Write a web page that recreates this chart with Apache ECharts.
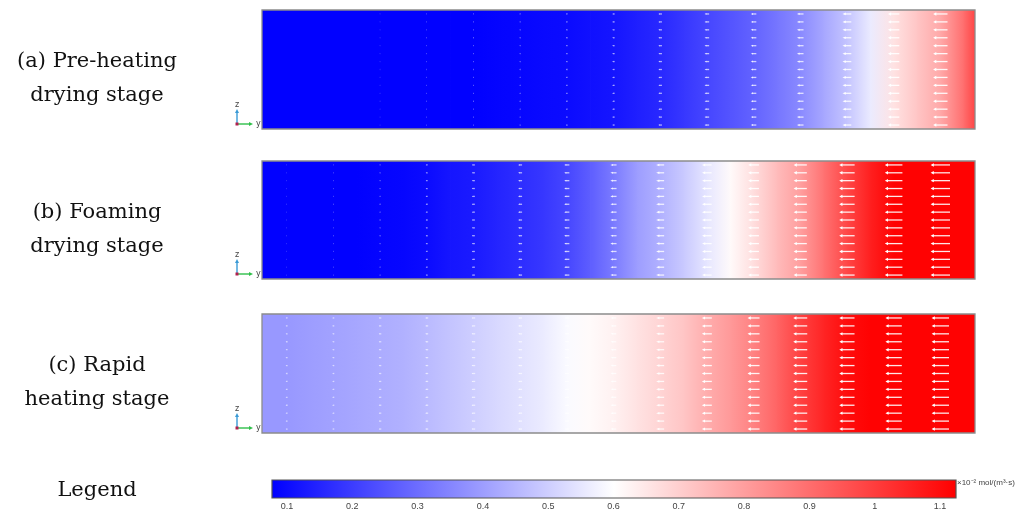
<!DOCTYPE html>
<html>
<head>
<meta charset="utf-8">
<script src="https://cdn.jsdelivr.net/npm/echarts@6/dist/echarts.min.js"></script>
<style>
  html, body { margin: 0; padding: 0; background: #ffffff; }
  #chart { width: 1020px; height: 512px; }
</style>
</head>
<body>
<div id="chart"></div>
<script>
// Molar flux along the y direction of the sample for three drying stages,
// in units of 1e-2 mol/(m^3 s). Samples run along y (left -> right).

// domain length along y (in units of the arrow column spacing) and height along z
const domainY = 15.27;
const domainZ = 15;

// sample positions along y: the two edges, every arrow column and the midpoints between
const samplePos = [0]
  .concat(Array.from({ length: 30 }, (_, j) => 0.527 + 0.5 * j))
  .concat([domainY]);

// flux values at samplePos for each stage
const fluxPreheat = [0.08, 0.08, 0.08, 0.08, 0.08, 0.08, 0.08, 0.08, 0.08, 0.08, 0.085, 0.09, 0.095, 0.10, 0.11, 0.12,
                     0.14, 0.16, 0.19, 0.22, 0.25, 0.28, 0.32, 0.36, 0.42, 0.48, 0.56, 0.66, 0.72, 0.78, 0.90, 0.98];
const fluxFoaming = [0.08, 0.08, 0.08, 0.08, 0.08, 0.085, 0.09, 0.10, 0.12, 0.13, 0.15, 0.17, 0.19, 0.22, 0.27, 0.33,
                     0.40, 0.44, 0.49, 0.55, 0.61, 0.67, 0.74, 0.80, 0.89, 0.98, 1.06, 1.12, 1.12, 1.12, 1.12, 1.12];
const fluxRapid   = [0.39, 0.39, 0.40, 0.41, 0.42, 0.43, 0.44, 0.46, 0.48, 0.50, 0.52, 0.54, 0.56, 0.59, 0.61, 0.63,
                     0.66, 0.69, 0.72, 0.77, 0.81, 0.86, 0.92, 0.99, 1.05, 1.10, 1.12, 1.12, 1.12, 1.12, 1.12, 1.12];

// relative arrow magnitude at each of the 15 arrow columns (1 = longest arrow)
const arrowPreheat = [0.00, 0.00, 0.02, 0.03, 0.04, 0.05, 0.08, 0.12, 0.18, 0.23, 0.28, 0.33, 0.44, 0.57, 0.72];
const arrowFoaming = [0.02, 0.03, 0.05, 0.10, 0.15, 0.20, 0.26, 0.31, 0.40, 0.48, 0.54, 0.66, 0.77, 0.88, 0.97];
const arrowRapid   = [0.10, 0.10, 0.13, 0.15, 0.18, 0.20, 0.23, 0.28, 0.40, 0.50, 0.60, 0.70, 0.76, 0.82, 0.87];

const stageLabels = [
  ['(a) Pre-heating', 'drying stage'],
  ['(b) Foaming', 'drying stage'],
  ['(c) Rapid', 'heating stage']
];
const legendTitle = 'Legend';

// colour scale
const scaleMin = 0.077;
const scaleMax = 1.1245;
const scaleColors = ['#0000ff', '#ffffff', '#ff0000'];
const scaleTicks = [0.1, 0.2, 0.3, 0.4, 0.5, 0.6, 0.7, 0.8, 0.9, 1, 1.1];
const scaleUnit = '×10⁻² mol/(m³·s)';

const stageFlux = [fluxPreheat, fluxFoaming, fluxRapid];
const stageArrows = [arrowPreheat, arrowFoaming, arrowRapid];

// layout of the three panels and the colour bar
const panelLeft = 262, panelWidth = 713;
const panelTops = [10, 161, 314];
const panelHeights = [119, 118, 119];
const barBox = { left: 272, top: 480, width: 684, height: 18 };
const arrowFullLength = 20; // px for a relative magnitude of 1
const serif = "'DejaVu Serif', 'Liberation Serif', serif";

function fluxColor(v) {
  const t = Math.min(1, Math.max(0, (v - scaleMin) / (scaleMax - scaleMin)));
  return echarts.color.lerp(t, scaleColors);
}

const chart = echarts.init(document.getElementById('chart'), null, { renderer: 'canvas' });

const grids = [], xAxes = [], yAxes = [], series = [], graphics = [];

stageFlux.forEach((flux, i) => {
  grids.push({ left: panelLeft, top: panelTops[i], width: panelWidth, height: panelHeights[i] });
  xAxes.push({ type: 'value', gridIndex: i, min: 0, max: domainY, show: false });
  yAxes.push({ type: 'value', gridIndex: i, min: 0, max: domainZ, show: false });

  // field: one gradient strip per pair of neighbouring samples
  const segments = [];
  for (let k = 0; k < samplePos.length - 1; k++) {
    segments.push([samplePos[k], samplePos[k + 1], flux[k], flux[k + 1]]);
  }
  series.push({
    type: 'custom', xAxisIndex: i, yAxisIndex: i, silent: true, z: 1,
    data: segments,
    renderItem(params, api) {
      const a = api.coord([api.value(0), domainZ]);
      const b = api.coord([api.value(1), 0]);
      const last = params.dataIndex === segments.length - 1;
      return {
        type: 'rect',
        shape: { x: a[0], y: a[1], width: b[0] - a[0] + (last ? 0 : 0.8), height: b[1] - a[1] },
        style: {
          fill: new echarts.graphic.LinearGradient(0, 0, 1, 0, [
            { offset: 0, color: fluxColor(api.value(2)) },
            { offset: 1, color: fluxColor(api.value(3)) }
          ])
        }
      };
    }
  });

  // flux arrows: 15 columns along y, 15 rows along z, pointing towards -y
  const arrows = [];
  stageArrows[i].forEach((m, c) => {
    const pos = samplePos[1 + 2 * c];
    for (let r = 0; r < 15; r++) arrows.push([pos, r + 0.5, m]);
  });
  series.push({
    type: 'custom', xAxisIndex: i, yAxisIndex: i, silent: true, z: 3,
    data: arrows,
    renderItem(params, api) {
      const p = api.coord([api.value(0), api.value(1)]);
      const len = api.value(2) * arrowFullLength;
      if (len < 0.3) return null;
      const x0 = p[0] - len / 2, x1 = p[0] + len / 2, y = p[1];
      const head = Math.min(3.2, len * 0.4);
      const half = Math.min(1.7, 0.3 + len * 0.12);
      const alpha = 0.45 + 0.45 * Math.min(1, len / 10);
      return {
        type: 'group',
        children: [
          { type: 'line', shape: { x1: x0 + head * 0.7, y1: y, x2: x1, y2: y },
            style: { stroke: 'rgba(255,255,255,' + alpha + ')', lineWidth: 1.3 } },
          { type: 'polygon', shape: { points: [[x0, y], [x0 + head, y - half], [x0 + head, y + half]] },
            style: { fill: 'rgba(255,255,255,' + Math.min(1, alpha + 0.1) + ')' } }
        ]
      };
    }
  });

  // panel frame
  series.push({
    type: 'custom', xAxisIndex: i, yAxisIndex: i, silent: true, z: 4,
    data: [[0, 0]],
    renderItem(params, api) {
      const a = api.coord([0, domainZ]);
      const b = api.coord([domainY, 0]);
      return {
        type: 'rect',
        shape: { x: a[0], y: a[1], width: b[0] - a[0], height: b[1] - a[1] },
        style: { fill: null, stroke: '#8c8c8c', lineWidth: 1.3 }
      };
    }
  });

  // coordinate triad at the lower-left corner of each panel
  const ox = 237, oy = panelTops[i] + panelHeights[i] - 5;
  graphics.push(
    { type: 'line', shape: { x1: ox, y1: oy, x2: ox, y2: oy - 12 }, style: { stroke: '#3a9ad6', lineWidth: 1.4 } },
    { type: 'polygon', shape: { points: [[ox, oy - 15], [ox - 2, oy - 11], [ox + 2, oy - 11]] }, style: { fill: '#3a9ad6' } },
    { type: 'line', shape: { x1: ox, y1: oy, x2: ox + 13, y2: oy }, style: { stroke: '#2fbf4a', lineWidth: 1.4 } },
    { type: 'polygon', shape: { points: [[ox + 16, oy], [ox + 12, oy - 2], [ox + 12, oy + 2]] }, style: { fill: '#2fbf4a' } },
    { type: 'rect', shape: { x: ox - 1.5, y: oy - 1.5, width: 3, height: 3 }, style: { fill: '#b0204e' } },
    { type: 'text', x: ox, y: oy - 19, style: { text: 'z', fontSize: 8, fill: '#444', align: 'center', verticalAlign: 'middle', fontFamily: 'DejaVu Sans' } },
    { type: 'text', x: ox + 19, y: oy, style: { text: 'y', fontSize: 8, fill: '#444', align: 'left', verticalAlign: 'middle', fontFamily: 'DejaVu Sans' } }
  );

  // stage names on the left
  const cy = panelTops[i] + panelHeights[i] / 2;
  stageLabels[i].forEach((line, j) => {
    graphics.push({
      type: 'text', x: 97, y: cy + 9.5 + (j - 0.5) * 34,
      style: { text: line, fontSize: 21, fill: '#111', align: 'center', verticalAlign: 'middle', fontFamily: serif }
    });
  });
});

// colour bar
grids.push({ left: barBox.left, top: barBox.top, width: barBox.width, height: barBox.height });
xAxes.push({
  type: 'value', gridIndex: 3, min: scaleMin, max: scaleMax, position: 'bottom',
  splitLine: { show: false }, axisLine: { show: false }, axisTick: { show: false },
  axisLabel: {
    customValues: scaleTicks, margin: 4, fontSize: 9, color: '#444',
    fontFamily: "'Liberation Sans Narrow', 'Liberation Sans', sans-serif",
    formatter: v => String(+(+v).toFixed(1))
  }
});
xAxes.push({
  type: 'value', gridIndex: 3, min: scaleMin, max: scaleMax, position: 'top',
  splitLine: { show: false }, axisLine: { show: false }, axisLabel: { show: false },
  axisTick: { show: true, inside: true, length: 4, customValues: scaleTicks, lineStyle: { color: '#333', width: 1 } }
});
yAxes.push({ type: 'value', gridIndex: 3, min: 0, max: 1, show: false });
series.push({
  type: 'custom', xAxisIndex: 3, yAxisIndex: 3, silent: true, z: 1,
  data: [[scaleMin, scaleMax]],
  renderItem(params, api) {
    const a = api.coord([api.value(0), 1]);
    const b = api.coord([api.value(1), 0]);
    return {
      type: 'rect',
      shape: { x: a[0], y: a[1], width: b[0] - a[0], height: b[1] - a[1] },
      style: {
        fill: new echarts.graphic.LinearGradient(0, 0, 1, 0,
          scaleColors.map((c, k) => ({ offset: k / (scaleColors.length - 1), color: c }))),
        stroke: '#555', lineWidth: 1.2
      }
    };
  }
});

graphics.push(
  { type: 'text', x: 97, y: 491,
    style: { text: legendTitle, fontSize: 21, fill: '#111', align: 'center', verticalAlign: 'middle', fontFamily: serif } },
  { type: 'text', x: barBox.left + barBox.width + 1, y: barBox.top + 3,
    style: { text: scaleUnit, fontSize: 8, fill: '#444', align: 'left', verticalAlign: 'middle', fontFamily: "'Liberation Sans Narrow', 'Liberation Sans', sans-serif" } }
);

chart.setOption({
  animation: false,
  backgroundColor: '#ffffff',
  grid: grids,
  xAxis: xAxes,
  yAxis: yAxes,
  series: series,
  graphic: { elements: graphics }
});
</script>
</body>
</html>
